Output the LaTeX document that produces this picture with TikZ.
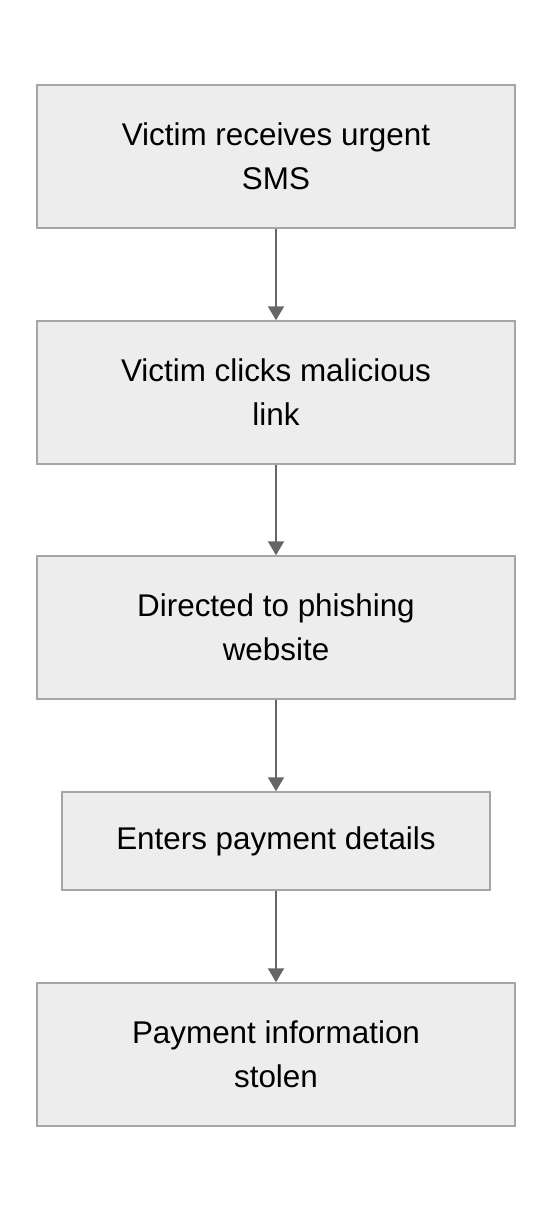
\documentclass[tikz,border=0pt]{standalone}
\usepackage{fontspec}
\setmainfont{Liberation Sans}
\usetikzlibrary{arrows.meta}

\begin{document}
\begin{tikzpicture}[x=0.5pt,y=-0.5pt,
	step_node/.style={rectangle,draw=black!35,fill=black!7,line width=0.75pt,minimum width=239pt,minimum height=71.5pt,align=center,font=\fontsize{15.7pt}{22pt}\selectfont},
	flow_arrow/.style={draw=black!60,line width=1pt,-{Triangle[width=8pt,length=7pt]}}]

	\useasboundingbox (0,0) rectangle (552,1212);

	\node[step_node] (a) at (276,156.5) {Victim receives urgent\\SMS};
	\node[step_node] (b) at (276,392.5) {Victim clicks malicious\\link};
	\node[step_node] (c) at (276,627.5) {Directed to phishing\\website};
	\node[step_node,minimum width=214pt,minimum height=49pt] (d) at (276,841) {Enters payment details};
	\node[step_node] (e) at (276,1054.5) {Payment information\\stolen};

	\draw[flow_arrow] (a) -- (b);
	\draw[flow_arrow] (b) -- (c);
	\draw[flow_arrow] (c) -- (d);
	\draw[flow_arrow] (d) -- (e);
\end{tikzpicture}
\end{document}
